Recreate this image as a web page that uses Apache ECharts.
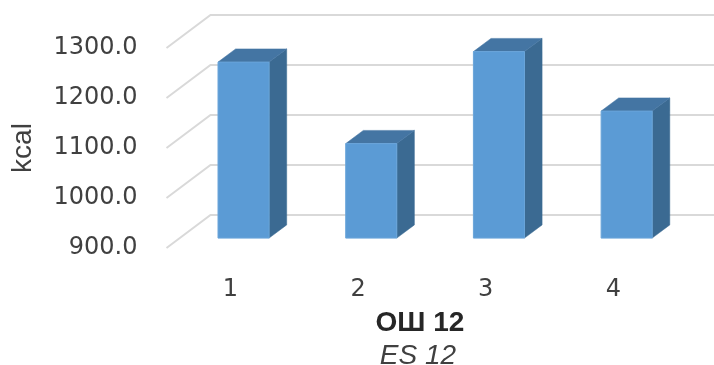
<!DOCTYPE html>
<html>
<head>
<meta charset="utf-8">
<script src="https://cdn.jsdelivr.net/npm/echarts@6/dist/echarts.min.js"></script>
<style>
  html, body { margin: 0; padding: 0; background: #ffffff; }
  #chart { width: 714px; height: 365px; }
</style>
</head>
<body>
<div id="chart"></div>
<script>
// ---- data ----
const categories = ['1', '2', '3', '4'];
const values = [1252, 1089, 1273, 1154];
const yTicks = [900, 1000, 1100, 1200, 1300];
const yMin = 900, yMax = 1300, yStep = 100;
const axisTitle = 'kcal';
const titleMain = 'ОШ 12';
const titleSub = 'ES 12';

// ---- 3D look (pixels) ----
const DEPTH = [44, -33];      // full floor depth vector
const BAR_FRONT = 0.3;        // bar front face depth fraction
const BAR_DEPTH = 0.4;        // bar depth fraction
const BAR_W = 0.4;            // bar width as fraction of band

const chart = echarts.init(document.getElementById('chart'), null, { renderer: 'canvas' });

function gridItem(params, api) {
  const cs = params.coordSys;
  const p = api.coord([0, api.value(1)]);
  const x0 = cs.x, y = p[1];
  const bx = x0 + DEPTH[0], by = y + DEPTH[1];
  return {
    type: 'polyline',
    shape: { points: [[x0, y], [bx, by], [714, by]] },
    style: { stroke: '#D9D9D9', lineWidth: 2, fill: null },
    silent: true
  };
}

function barItem(params, api) {
  const idx = api.value(0);
  const base = api.coord([idx, yMin]);
  const top = api.coord([idx, api.value(1)]);
  const band = api.size([1, 0])[0];
  const w = band * BAR_W;
  const fx = base[0] + DEPTH[0] * BAR_FRONT - w / 2;
  const fy0 = base[1] + DEPTH[1] * BAR_FRONT;
  const fy1 = top[1] + DEPTH[1] * BAR_FRONT;
  const dx = DEPTH[0] * BAR_DEPTH, dy = DEPTH[1] * BAR_DEPTH;
  return {
    type: 'group',
    children: [
      { type: 'polygon', shape: { points: [[fx + w, fy1], [fx + w, fy0], [fx + w + dx, fy0 + dy], [fx + w + dx, fy1 + dy]] },
        style: { fill: '#3B6A92', stroke: '#3B6A92', lineWidth: 0.5 } },
      { type: 'polygon', shape: { points: [[fx, fy1], [fx + w, fy1], [fx + w + dx, fy1 + dy], [fx + dx, fy1 + dy]] },
        style: { fill: '#4475A3', stroke: '#4475A3', lineWidth: 0.5 } },
      { type: 'rect', shape: { x: fx, y: fy1, width: w, height: fy0 - fy1 },
        style: { fill: '#5B9BD5', stroke: '#6AA5DA', lineWidth: 1 } }
    ]
  };
}

chart.setOption({
  animation: false,
  grid: { left: 166.5, right: 36.7, top: 48, bottom: 117, containLabel: false, outerBoundsMode: 'none' },
  xAxis: {
    type: 'category',
    data: categories,
    axisLine: { show: false },
    axisTick: { show: false },
    axisLabel: { margin: 30, fontFamily: 'DejaVu Sans', fontSize: 24, color: '#404040' }
  },
  yAxis: {
    type: 'value',
    min: yMin, max: yMax, interval: yStep,
    axisLine: { show: false },
    axisTick: { show: false },
    splitLine: { show: false },
    axisLabel: { margin: 29, fontFamily: 'DejaVu Sans', fontSize: 24, color: '#404040',
      padding: [11, 0, 0, 0], formatter: v => v.toFixed(1) },
    name: axisTitle,
    nameLocation: 'middle',
    nameRotate: 90,
    nameGap: 129,
    nameTextStyle: { fontFamily: 'Liberation Sans', fontSize: 28, color: '#404040' }
  },
  graphic: [
    { type: 'text', x: 420, y: 323, style: { text: titleMain, textAlign: 'center', textVerticalAlign: 'middle',
      font: 'bold 28px "Liberation Sans"', fill: '#262626' } },
    { type: 'text', x: 418, y: 356, style: { text: titleSub, textAlign: 'center', textVerticalAlign: 'middle',
      font: 'italic 28px "Liberation Sans"', fill: '#404040' } }
  ],
  series: [
    { type: 'custom', renderItem: gridItem, data: yTicks.map(v => [0, v]), z: 1, silent: true },
    { type: 'custom', renderItem: barItem, data: values.map((v, i) => [i, v]), z: 5 }
  ]
});
</script>
</body>
</html>
